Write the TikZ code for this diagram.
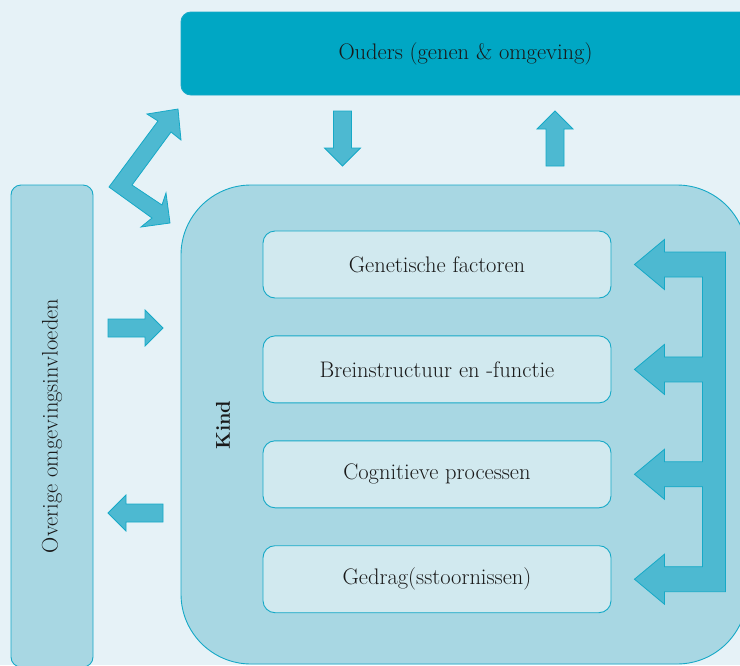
\documentclass[tikz,border=0pt]{standalone}
\usepackage{tikz}
\usetikzlibrary{calc, positioning}
\definecolor{achtergrond}{RGB}{230,242,247}
\definecolor{oudersblauw}{RGB}{0,167,196}
\definecolor{kindblauw}{RGB}{168,215,227}
\definecolor{factorblauw}{RGB}{209,233,239}
\definecolor{pijlblauw}{RGB}{77,185,209}
\definecolor{randblauw}{RGB}{22,169,199}
\definecolor{tekst}{RGB}{25,25,25}
\tikzset{
    every node/.style={font=\fontsize{22.5}{26}\selectfont, text=tekst},
    kader/.style={draw=randblauw, line width=0.9pt, rounded corners=10pt},
    ouderskader/.style={kader, fill=oudersblauw, minimum width=569pt, minimum height=83pt},
    overigkader/.style={kader, fill=kindblauw, rotate=90, minimum width=482pt, minimum height=82pt},
    kindkader/.style={kader, fill=kindblauw, rounded corners=70pt, minimum width=566pt, minimum height=479pt},
    factor/.style={kader, fill=factorblauw, rounded corners=12pt, minimum width=348pt, minimum height=67pt},
    blokpijl/.style={draw=randblauw, line width=0.8pt, fill=pijlblauw, line join=miter}
}
\newcommand{\tikzblokpijl}[2]{%
    \coordinate (Pkop) at ($(#2)!18pt!(#1)$);
    \draw[blokpijl] ($(#1)!9pt!90:(#2)$) -- ($(Pkop)!9pt!90:(#2)$) -- ($(Pkop)!18pt!90:(#2)$) -- (#2)
        -- ($(Pkop)!18pt!-90:(#2)$) -- ($(Pkop)!9pt!-90:(#2)$) -- ($(#1)!9pt!-90:(#2)$) -- cycle;
}

\begin{document}
\begin{tikzpicture}[x=1pt, y=-1pt, node distance=37pt]
            \clip (0,0) rectangle (740,665);
            \fill[achtergrond] (0,0) rectangle (740,665);

            \node[ouderskader] (ouders) at (465.5,53.5) {Ouders (genen \& omgeving)};
            \node[overigkader] (overig) at (52,426) {Overige omgevingsinvloeden};
            \node[kindkader] (kind) at (464,424.5) {};
            \node[rotate=90, font=\fontsize{20}{24}\selectfont\bfseries] (kindlabel) at (223,425) {Kind};

            \node[factor] (gen) at (437,264.5) {Genetische factoren};
            \node[factor, below=of gen] (brein) {Breinstructuur en -functie};
            \node[factor, below=of brein] (cog) {Cognitieve processen};
            \node[factor, below=of cog] (ged) {Gedrag(sstoornissen)};

            \coordinate (neerA) at (342.5,111);
            \coordinate (neerB) at (342.5,166);
            \coordinate (opA) at (555,166);
            \coordinate (opB) at (555,111);
            \coordinate (inA) at (108,328);
            \coordinate (inB) at (163,328);
            \coordinate (uitA) at (163,513);
            \coordinate (uitB) at (108,513);

            \tikzblokpijl{neerA}{neerB};
            \tikzblokpijl{opA}{opB};
            \tikzblokpijl{inA}{inB};
            \tikzblokpijl{uitA}{uitB};

            \draw[blokpijl] (109,187) -- (158,121) -- (147,114) -- (178,109) -- (181,140) -- (171,132)
                -- (132,185) -- (162,205) -- (166,193) -- (170,223) -- (141,227) -- (152,218) -- cycle;

            \draw[blokpijl] ([xshift=114pt, yshift=12.5pt]gen.east) -- ([xshift=114pt, yshift=-12.5pt]ged.east)
                foreach \b in {ged, cog, brein, gen} {
                    -- ([xshift=91pt, yshift=-12.5pt]\b.east) -- ([xshift=53pt, yshift=-12.5pt]\b.east)
                    -- ([xshift=53pt, yshift=-25pt]\b.east) -- ([xshift=23pt]\b.east)
                    -- ([xshift=53pt, yshift=25pt]\b.east) -- ([xshift=53pt, yshift=12.5pt]\b.east)
                    -- ([xshift=91pt, yshift=12.5pt]\b.east)
                } -- cycle;

        \end{tikzpicture}
\end{document}
